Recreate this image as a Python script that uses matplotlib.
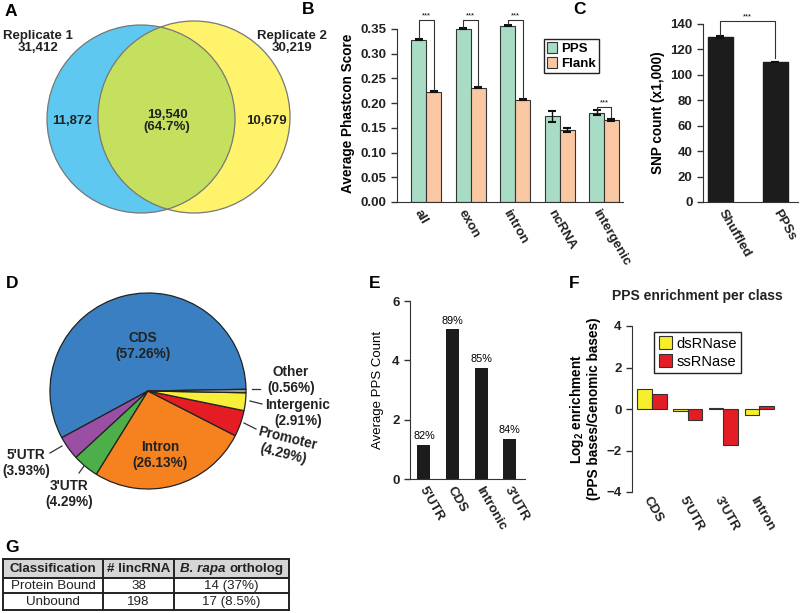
import numpy as np
import matplotlib
matplotlib.use("Agg")
import matplotlib.pyplot as plt
import matplotlib.transforms as mtransforms
from matplotlib.patches import Circle, Rectangle

plt.rcParams['font.family'] = ['Liberation Sans', 'DejaVu Sans']
plt.rcParams['font.weight'] = 'bold'
plt.rcParams['mathtext.fontset'] = 'custom'
plt.rcParams['mathtext.rm'] = 'Liberation Sans:bold'
plt.rcParams['mathtext.it'] = 'Liberation Sans:bold'

# ---- data ----
# A: venn
venn_only1 = "11,872"
venn_both = "19,540\n(64.7%)"
venn_only2 = "10,679"
rep1_label = "Replicate 1\n31,412"
rep2_label = "Replicate 2\n30,219"

# B: phastcon
b_classes = ["all", "exon", "intron", "ncRNA", "intergenic"]
b_pps = [0.328, 0.350, 0.356, 0.173, 0.181]
b_pps_err = [0.001, 0.001, 0.001, 0.012, 0.005]
b_flank = [0.223, 0.231, 0.207, 0.146, 0.166]
b_flank_err = [0.001, 0.001, 0.001, 0.004, 0.002]

# C: SNP count
c_labels = ["Shuffled", "PPSs"]
c_values = [129.5, 110.5]
c_err = [0.8, 0.0]

# D: pie
d_labels = ["CDS", "5'UTR", "3'UTR", "Intron", "Promoter", "Intergenic", "Other"]
d_values = [57.26, 3.93, 4.29, 26.13, 4.29, 2.91, 0.56]
d_colors = ["#3a7fc1", "#9a4fa5", "#4daf4a", "#f5821f", "#e41d25", "#f7ee3a", "#9b9b9b"]

# E: average PPS count
e_labels = ["5'UTR", "CDS", "Intronic", "3'UTR"]
e_values = [1.15, 5.05, 3.75, 1.35]
e_pct = ["82%", "89%", "85%", "84%"]

# F: enrichment
f_labels = ["CDS", "5'UTR", "3'UTR", "Intron"]
f_ds = [0.98, -0.08, 0.07, -0.28]
f_ss = [0.72, -0.53, -1.74, 0.14]

# G: table
g_header = ["Classification", "# lincRNA", "B. rapa ortholog"]
g_rows = [["Protein Bound", "38", "14 (37%)"],
          ["Unbound", "198", "17 (8.5%)"]]

W, H = 800, 613
fig = plt.figure(figsize=(W / 100, H / 100), dpi=100)
TS = 9.5  # tick label size


def px_axes(l, t, r, b):
    return fig.add_axes([l / W, 1 - b / H, (r - l) / W, (b - t) / H])


def style(ax, bottom=True):
    for s in ['top', 'right']:
        ax.spines[s].set_visible(False)
    ax.spines['left'].set_color('#333333')
    ax.spines['bottom'].set_color('#333333')
    if not bottom:
        ax.spines['bottom'].set_visible(False)
    ax.tick_params(direction='out', length=4, width=1, color='#333333',
                   labelsize=TS, labelcolor='#222222')
    for t in ax.get_yticklabels():
        t.set_fontweight('bold')


def rot_labels(ax, labels, dx=0, dy=0):
    ax.set_xticklabels(labels, fontsize=TS, fontweight='bold')
    off = mtransforms.ScaledTranslation(dx / 100, -dy / 100, fig.dpi_scale_trans)
    for t in ax.get_xticklabels():
        t.set_rotation(-60)
        t.set_ha('left')
        t.set_va('center')
        t.set_rotation_mode('anchor')
        t.set_transform(t.get_transform() + off)


# overlay in pixel coordinates (kept on top)
ov = fig.add_axes([0, 0, 1, 1])
ov.set_xlim(0, W)
ov.set_ylim(H, 0)
ov.axis('off')
ov.set_zorder(5)

# panel letters
for letter, (x, y) in {"A": (5, 12), "B": (302, 10), "C": (573, 10), "D": (6, 283),
                       "E": (369, 283), "F": (569, 283), "G": (5, 547)}.items():
    ov.text(x, y, letter, fontsize=12.5, fontweight='bold', va='center', ha='left')

# ---- A: venn ----
c1 = Circle((141, 119), 94, facecolor='#5ec8f0', edgecolor='none')
c2 = Circle((194, 117), 96, facecolor='#fff36b', edgecolor='none')
ov.add_patch(c1)
ov.add_patch(c2)
inter = Circle((141, 119), 94, facecolor='#c4e05e', edgecolor='none')
ov.add_patch(inter)
inter.set_clip_path(c2)
ov.add_patch(Circle((141, 119), 94, facecolor='none', edgecolor='#777777', lw=0.9))
ov.add_patch(Circle((194, 117), 96, facecolor='none', edgecolor='#777777', lw=0.9))
vk = dict(ha='center', va='center', fontsize=9.5, color='#222222', linespacing=1.1)
ov.text(38, 42, rep1_label, **vk)
ov.text(292, 42, rep2_label, **vk)
ov.text(72, 121, venn_only1, **vk)
ov.text(167, 121, venn_both, **vk)
ov.text(266, 121, venn_only2, **vk)

# ---- B: phastcon bars ----
axb = px_axes(397, 24, 623, 202)
xb = np.arange(len(b_classes))
wb = 15 / 44.5
ekw = dict(elinewidth=1, capthick=1.5, ecolor='#111111')
axb.bar(xb - wb / 2, b_pps, wb, yerr=b_pps_err, color='#a8dcc4', edgecolor='#333333',
        lw=0.8, capsize=3, error_kw=ekw, label='PPS')
axb.bar(xb + wb / 2, b_flank, wb, yerr=b_flank_err, color='#f9c7a2', edgecolor='#333333',
        lw=0.8, capsize=3, error_kw=ekw, label='Flank')
axb.set_xlim(-0.652, 4.427)
axb.set_ylim(0, 0.36)
axb.spines['left'].set_bounds(0, 0.35)
axb.set_yticks(np.arange(0, 0.351, 0.05))
axb.set_yticklabels(['%.2f' % v for v in np.arange(0, 0.351, 0.05)])
axb.set_xticks(xb)
style(axb)
axb.tick_params(axis='x', length=0, pad=6)
rot_labels(axb, b_classes, dx=-9)
axb.set_ylabel('Average Phastcon Score', fontsize=9.8, fontweight='bold', labelpad=4)
for i, top in [(0, 0.368), (1, 0.368), (2, 0.368), (4, 0.193)]:
    y1 = b_pps[i] + b_pps_err[i] + 0.003
    y2 = b_flank[i] + b_flank_err[i] + 0.003
    axb.plot([i - wb / 2, i - wb / 2, i + wb / 2, i + wb / 2], [y1, top, top, y2],
             color='#333333', lw=0.8, clip_on=False)
    axb.text(i, top + 0.001, '***', ha='center', va='bottom', fontsize=5.5,
             fontweight='normal', clip_on=False)
axb.legend(loc='upper right', bbox_to_anchor=(0.925, 0.955), fancybox=False,
           edgecolor='#222222', framealpha=1, handlelength=0.8, handleheight=0.9,
           handletextpad=0.3, borderpad=0.25, labelspacing=0.15,
           prop=dict(size=9.5, weight='bold'))

# ---- C: SNP count ----
axc = px_axes(703, 24, 798, 202)
xc = np.arange(len(c_labels))
axc.bar(xc, c_values, 0.455, yerr=c_err, color='#1c1c1c', edgecolor='#1c1c1c',
        capsize=3, error_kw=ekw)
axc.set_xlim(-0.31, 1.418)
axc.set_ylim(0, 140)
axc.set_yticks(np.arange(0, 141, 20))
axc.set_xticks(xc)
style(axc)
axc.tick_params(axis='x', length=0, pad=6)
rot_labels(axc, c_labels, dx=1)
axc.set_ylabel('SNP count (x1,000)', fontsize=9.8, fontweight='bold', labelpad=4)
axc.plot([0, 0, 1, 1], [c_values[0] + 1.5, 142.5, 142.5, c_values[1] + 2.5],
         color='#333333', lw=0.8, clip_on=False)
axc.text(0.5, 143, '***', ha='center', va='bottom', fontsize=5.5, fontweight='normal')

# ---- D: pie ----
axd = px_axes(49, 292, 247, 490)
axd.pie(d_values, colors=d_colors, startangle=1, counterclock=True,
        wedgeprops=dict(edgecolor='#222222', linewidth=0.9))
axd.set_xlim(-1.01, 1.01)
axd.set_ylim(-1.01, 1.01)
pk = dict(ha='center', va='center', fontsize=9.8, color='#222222', linespacing=1.15)
ov.text(143, 346, "CDS\n(57.26%)", **pk)
ov.text(160, 455, "Intron\n(26.13%)", **pk)
ov.text(291, 380, "Other\n(0.56%)", **pk)
ov.text(298, 413, "Intergenic\n(2.91%)", **pk)
ov.text(285, 446, "Promoter\n(4.29%)", rotation=-14, **pk)
ov.text(26, 463, "5'UTR\n(3.93%)", **pk)
ov.text(69, 494, "3'UTR\n(4.29%)", **pk)
for (x0, y0), (x1, y1) in [((252, 389), (260, 389)), ((250, 401), (262, 404)),
                           ((244, 423), (256, 429)), ((50, 453), (62, 446)),
                           ((79, 473), (84, 466))]:
    ov.plot([x0, x1], [y0, y1], color='#333333', lw=0.9)

# ---- E: average PPS count ----
axe = px_axes(410, 301, 525, 479)
xe = np.arange(len(e_labels))
axe.bar(xe, e_values, 0.456, color='#1c1c1c')
axe.set_xlim(-0.49, 3.54)
axe.set_ylim(0, 6)
axe.set_yticks([0, 2, 4, 6])
axe.set_xticks(xe)
style(axe)
axe.tick_params(axis='x', length=0, pad=6)
rot_labels(axe, e_labels, dx=-2)
axe.set_ylabel('Average PPS Count', fontsize=9.5, fontweight='normal', labelpad=6)
for x, v, p in zip(xe, e_values, e_pct):
    axe.text(x, v + 0.12, p, ha='center', va='bottom', fontsize=7.8, fontweight='normal')

# ---- F: enrichment ----
axf = px_axes(632, 326, 782, 492)
xf = np.arange(len(f_labels))
wf = 14.5 / 35.7
axf.bar(xf - wf / 2, f_ds, wf, color='#f7ef2c', edgecolor='#333333', lw=0.8, label='dsRNase')
axf.bar(xf + wf / 2, f_ss, wf, color='#e41d25', edgecolor='#333333', lw=0.8, label='ssRNase')
axf.set_xlim(-0.56, 3.64)
axf.set_ylim(-4, 4)
axf.set_yticks([-4, -2, 0, 2, 4])
axf.set_xticks(xf)
style(axf, bottom=False)
axf.tick_params(axis='x', length=0, pad=4)
rot_labels(axf, f_labels, dx=-6)
axf.set_ylabel('Log$_2$ enrichment\n(PPS bases/Genomic bases)', fontsize=9.8,
               fontweight='bold', labelpad=4, linespacing=1.1)
axf.legend(loc='upper left', bbox_to_anchor=(0.10, 1.01), fancybox=False,
           edgecolor='#222222', framealpha=1, handlelength=0.9, handleheight=1.0,
           handletextpad=0.3, borderpad=0.3, labelspacing=0.25,
           prop=dict(size=10.5, weight='normal'))
ov.text(697, 296, 'PPS enrichment per class', ha='center', va='center', fontsize=10,
        fontweight='bold', color='#222222')

# ---- G: table ----
tl, tr = 3, 289
cols = [3, 103, 174, 289]
rows = [559, 578, 593, 610]
ov.add_patch(Rectangle((tl, rows[0]), tr - tl, rows[1] - rows[0], facecolor='#d6d6d6',
                       edgecolor='none'))
for y in rows:
    ov.plot([tl, tr], [y, y], color='#222222', lw=1.4)
for x in cols:
    ov.plot([x, x], [rows[0], rows[-1]], color='#222222', lw=1.4)
hy = (rows[0] + rows[1]) / 2 + 0.5
for j in range(3):
    cx = (cols[j] + cols[j + 1]) / 2
    if j == 2:
        ov.text(226, hy, 'B. rapa', ha='right', va='center', fontsize=9.6,
                fontweight='bold', style='italic', color='#222222')
        ov.text(229, hy, 'ortholog', ha='left', va='center', fontsize=9.6,
                fontweight='bold', color='#222222')
    else:
        ov.text(cx, hy, g_header[j], ha='center', va='center',
                fontsize=9.6, fontweight='bold', color='#222222')
    for r, row in enumerate(g_rows):
        ov.text(cx, (rows[r + 1] + rows[r + 2]) / 2 + 0.5, row[j], ha='center', va='center',
                fontsize=9.6, fontweight='normal', color='#222222')

fig.savefig('out.png', dpi=100)
